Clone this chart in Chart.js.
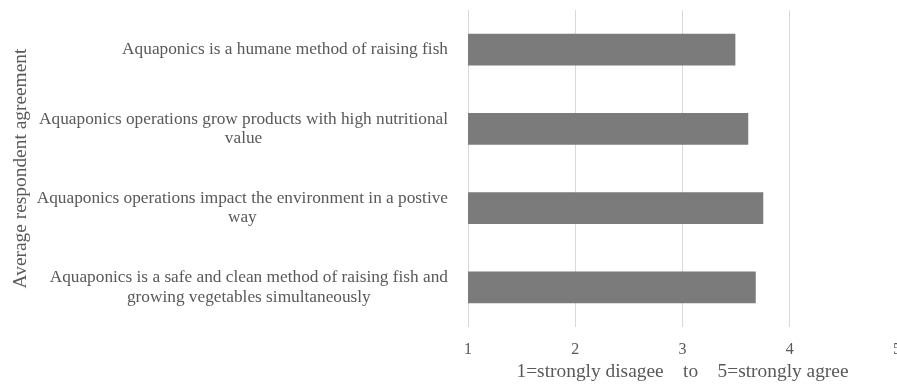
<!DOCTYPE html>
<html>
<head>
<meta charset="utf-8">
<script src="https://cdn.jsdelivr.net/npm/chart.js@4.4.1/dist/chart.umd.min.js"></script>
<style>
  html, body { margin: 0; padding: 0; background: #fff; overflow: hidden; }
  #frame { width: 897px; height: 388px; overflow: hidden; position: relative; }
  canvas { display: block; }
</style>
</head>
<body>
<!-- the canvas runs past the frame so the last tick label is cut at the edge -->
<div id="frame"><canvas id="chart" width="914" height="388"></canvas></div>
<script>
// Survey statements, each split into the lines it is printed on
const statements = [
    ['Aquaponics is a humane method of raising fish'],
    ['Aquaponics operations grow products with high nutritional', 'value'],
    ['Aquaponics operations impact the environment in a postive', 'way'],
    ['Aquaponics is a safe and clean method of raising fish and', 'growing vegetables simultaneously'],
];
const agreement = [3.49, 3.61, 3.75, 3.68];
const scaleTicks = [1, 2, 3, 4, 5];

const SERIF = '"Liberation Serif", "Times New Roman", serif';
const TEXT = '#595959';
const LABEL_RIGHT = 448;
const LINE_GAP = 19.5;

// category labels: block right-aligned, lines centred within the block
const statementLabels = {
    id: 'statementLabels',
    afterDraw(chart) {
        const { ctx, scales: { y } } = chart;
        ctx.save();
        ctx.font = `17.3px ${SERIF}`;
        ctx.fillStyle = TEXT;
        ctx.textAlign = 'center';
        ctx.textBaseline = 'middle';
        statements.forEach((lines, i) => {
            const w = Math.max(...lines.map(l => ctx.measureText(l).width));
            const cx = LABEL_RIGHT - w / 2;
            const cy = y.getPixelForTick(i);
            lines.forEach((line, j) => {
                ctx.fillText(line, cx, cy + (j - (lines.length - 1) / 2) * LINE_GAP);
            });
        });
        ctx.restore();
    },
};

new Chart(document.getElementById('chart'), {
    type: 'bar',
    data: {
        labels: statements.map(s => s.join(' ')),
        datasets: [{
            data: agreement.map(v => [scaleTicks[0], v]),
            backgroundColor: '#7b7b7b',
            borderWidth: 0,
            barThickness: 31,
        }],
    },
    options: {
        indexAxis: 'y',
        responsive: false,
        animation: false,
        layout: { padding: { top: 10, right: 0, left: 0, bottom: 0 } },
        plugins: { legend: { display: false }, tooltip: { enabled: false } },
        scales: {
            x: {
                min: scaleTicks[0],
                max: scaleTicks[scaleTicks.length - 1],
                afterBuildTicks: s => { s.ticks = scaleTicks.map(v => ({ value: v })); },
                afterFit: s => { s.height = 61; },
                grid: { color: '#d9d9d9', drawTicks: false },
                border: { display: false },
                ticks: { color: TEXT, font: { family: SERIF, size: 16 }, padding: 13, maxRotation: 0 },
                title: {
                    display: true,
                    text: '1=strongly disagee    to    5=strongly agree',
                    color: TEXT,
                    font: { family: SERIF, size: 19.4 },
                    padding: { top: 0, bottom: 4 },
                },
            },
            y: {
                grid: { display: false },
                border: { display: false },
                ticks: { display: false },
                afterFit: s => { s.width = 468; },
                title: {
                    display: true,
                    text: 'Average respondent agreement',
                    color: TEXT,
                    font: { family: SERIF, size: 19.4 },
                    padding: { top: 9, bottom: 0 },
                },
            },
        },
    },
    plugins: [statementLabels],
});
</script>
</body>
</html>
